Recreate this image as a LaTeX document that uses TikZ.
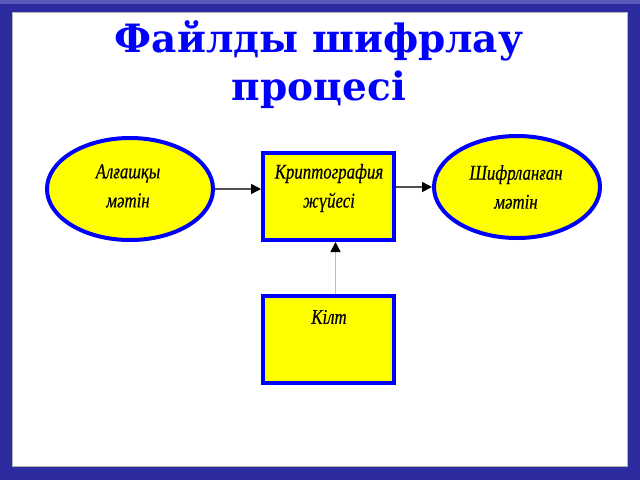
\documentclass[tikz,border=0pt]{standalone}
\usepackage{fontspec}
\setmainfont{Liberation Serif}
\newfontfamily\nodefont{Liberation Serif}[FakeStretch=0.8,FakeBold=0.4]
\newfontfamily\titlefont{DejaVu Serif}
\usetikzlibrary{shapes.geometric,arrows.meta}
\definecolor{framebl}{RGB}{44,44,160}
\definecolor{framelt}{RGB}{90,90,190}
\definecolor{ttlblue}{RGB}{0,0,255}
\definecolor{boxyel}{RGB}{255,255,0}
\definecolor{boxbl}{RGB}{0,0,255}
\definecolor{darkln}{RGB}{80,80,80}
\definecolor{lightln}{RGB}{190,190,190}
\tikzset{
  ttl/.style={font=\titlefont\bfseries\fontsize{39}{46}\selectfont, text=ttlblue, inner sep=0pt, anchor=base},
  ellnode/.style={ellipse, draw=boxbl, fill=boxyel, line width=4pt, minimum width=166pt, minimum height=102pt, inner sep=0pt},
  boxnode/.style={rectangle, draw=boxbl, fill=boxyel, line width=4pt, minimum width=131pt, minimum height=87pt, inner sep=0pt},
  txt/.style={font=\nodefont\itshape\fontsize{21}{29}\selectfont, align=center, inner sep=0pt, text=black},
  arr/.style={line width=1.5pt, -{Triangle[length=10pt,width=10pt,color=black]}},
}
\begin{document}
\begin{tikzpicture}[x=1pt,y=-1pt]
\useasboundingbox (0,0) rectangle (640,480);
% frame
\fill[framebl] (0,0) rectangle (640,480);
\fill[framelt] (0,0) rectangle (640,4);
\fill[gray!60] (12,12) rectangle (628,467);
\fill[white] (13,13) rectangle (627,466);
% title
\node[ttl] (t1) at (319,52) {Файлды шифрлау};
\node[ttl] (t2) at (319,100) {процесі};
% nodes
\node[ellnode] (src) at (130,189) {};
\node[txt] (srct) at (128,186) {Алғашқы\\мәтін};
\node[boxnode] (crypto) at (328.5,196.5) {};
\node[txt] (cryptot) at (329,188) {Криптография\\жүйесі};
\node[ellnode] (dst) at (517,187) {};
\node[txt] (dstt) at (516,187) {Шифрланған\\мәтін};
\node[boxnode] (key) at (328.5,339.5) {};
\node[txt] (keyt) at (329,317) {Кілт};
% connectors
\draw[arr, darkln] (src.east) -- (src.east -| crypto.west);
\draw[arr, darkln] (dst.west -| crypto.east) -- (dst.west);
\draw[arr, lightln] ([xshift=7pt]key.north) -- ([xshift=7pt]crypto.south);
\end{tikzpicture}
\end{document}
